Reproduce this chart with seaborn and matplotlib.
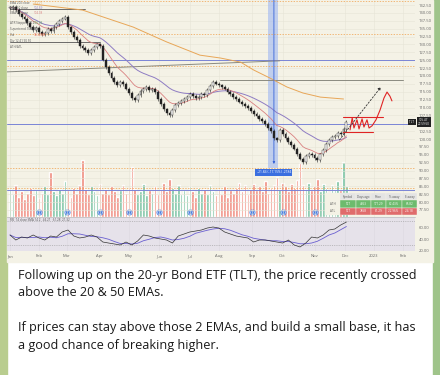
import numpy as np
import pandas as pd
import seaborn as sns
import matplotlib.pyplot as plt
from matplotlib.patches import Rectangle

closes = [
    141.5, 142.0, 140.8, 139.5, 138.6, 138.0, 136.8, 135.5, 134.6, 135.2,
    134.0, 133.2, 133.6, 134.8, 134.3, 135.6, 136.4, 137.5, 138.2, 138.7,
    135.4, 134.0, 132.3, 131.5, 129.6, 128.8, 128.2, 127.4, 128.3, 129.2,
    130.0, 129.4, 125.2, 122.8, 121.0, 119.3, 118.2, 117.0, 118.0, 117.4,
    116.0, 114.5, 112.9, 112.4, 114.0, 115.2, 115.8, 116.4, 115.5, 116.0,
    114.9, 112.8, 111.0, 109.4, 108.3, 107.6, 109.2, 110.8, 111.5, 112.0,
    112.6, 113.4, 114.2, 113.6, 112.9, 113.3, 114.4, 114.0, 115.6, 116.8,
    118.2, 117.6, 117.0, 116.4, 116.0, 115.0, 114.2, 113.4, 112.6, 111.9,
    111.2, 110.6, 109.8, 108.9, 108.0, 107.2, 106.4, 105.6, 104.8, 103.4,
    102.6, 100.2, 99.6, 102.8, 101.5, 100.4, 99.0, 98.2, 97.0, 95.3,
    93.8, 92.8, 94.6, 95.4, 94.9, 93.9, 93.4, 95.1, 96.6, 98.4,
    99.8, 100.6, 101.0, 102.0, 101.6, 103.2, 105.4,
]
volume_m = [
    22, 18, 25, 16, 20, 14, 19, 23, 17, 21,
    15, 19, 24, 18, 35, 20, 17, 22, 19, 28,
    21, 16, 23, 19, 25, 45, 22, 18, 24, 20,
    17, 26, 19, 22, 18, 24, 20, 16, 21, 25,
    19, 23, 39, 22, 18, 20, 26, 17, 21, 19,
    24, 18, 22, 27, 20, 30, 23, 19, 25, 18,
    21, 17, 24, 20, 16, 23, 19, 22, 18, 25,
    20, 17, 22, 18, 24, 16, 21, 19, 23, 27,
    20, 25, 18, 22, 26, 21, 24, 20, 28, 19,
    23, 25, 31, 22, 27, 24, 20, 26, 23, 29,
    42, 25, 22, 27, 21, 24, 30, 20, 26, 23,
    19, 25, 22, 28, 21, 43, 24,
]
# RSI(14) read every 4 bars
rsi_vals = [
    46.7, 38.3, 43.3, 41.7, 46.7, 41.7, 38.3, 45.0, 43.3, 51.7,
    55.0, 45.0, 41.7, 43.3, 46.7, 43.3, 35.0, 33.3, 31.7, 30.0,
    35.0, 30.0, 36.7, 46.7, 45.0, 41.7, 40.0, 38.3, 33.3, 45.0,
    48.3, 51.7, 53.3, 55.0, 58.3, 60.0, 58.3, 51.7, 48.3, 45.0,
    43.3, 41.7, 35.0, 38.3, 38.3, 36.7, 35.0, 33.3, 38.3, 30.0,
    26.7, 33.3, 43.3, 41.7, 46.7, 55.0, 56.7, 63.3, 68.3,
]
ema200_bars = [16, 50, 85, 108, 131, 145, 159, 168, 179, 191, 202, 214, 230]
ema200_vals = [142.8, 140.9, 135.5, 130.8, 126.6, 125.7, 124.4, 121.9, 119.4, 116.5, 114.6, 113.3, 112.7]

month_bars = [0, 20, 39, 62, 82, 103, 124, 144, 167, 188, 210, 231, 251, 271]
month_labels = ["Jan", "Feb", "Mar", "Apr", "May", "Jun", "Jul", "Aug", "Sep", "Oct", "Nov", "Dec", "2023", "Feb"]
dividend_bars = [20, 39, 62, 82, 103, 124, 167, 188, 210]

price_ticks = [77.5, 80.0, 82.5, 85.0, 87.5, 90.0, 92.5, 95.0, 97.5, 100.0, 102.5,
               107.5, 110.0, 112.5, 115.0, 117.5, 120.0, 122.5, 125.0, 127.5, 130.0,
               132.5, 135.0, 137.5, 140.0, 142.5]
last_price = 105.47

level_lines = [125.2, 104.8, 83.7]
alert_lines = [143.8, 133.3, 123.2, 90.8, 84.5]

# hand drawn annotations on the chart
base_top = 107.0
base_bottom = 102.2
zigzag_bars = [234.5, 236, 237.2, 239.3, 240.7, 242.8, 244.1, 246.2, 247.6, 249.7, 252.4, 255.2, 257.9, 260, 262, 263.4]
zigzag_vals = [102.9, 106.7, 103.5, 106.1, 103.2, 106.4, 103.8, 106.1, 103.5, 104.2, 106.1, 109.2, 113.0, 114.9, 113.6, 112.1]

table_rows = [["", "Symbol", "Days ago", "Price", "% away", "$ away"],
              ["ATH", "TLT", "4263", "171.29", "62.43%", "65.82"],
              ["ATL", "TLT", "7858", "81.29", "-22.96%", "-24.18"]]

text_lines = [
    "Following up on the 20-yr Bond ETF (TLT), the price recently crossed",
    "above the 20 & 50 EMAs.",
    "If prices can stay above those 2 EMAs, and build a small base, it has",
    "a good chance of breaking higher.",
]

# ---------------------------------------------------------------
W, H = 440, 375


def rect(x0, y0, x1, y1):
    return [x0 / W, 1 - y1 / H, (x1 - x0) / W, (y1 - y0) / H]


sns.set_theme(style="white")
plt.rcParams['font.family'] = ['Open Sans', 'DejaVu Sans']

fig = plt.figure(figsize=(4.4, 3.75), dpi=100, facecolor="white")
fig.patches.extend([
    Rectangle((0, 0), 7 / W, 1, transform=fig.transFigure, color="#b9cd8f", zorder=-5),
    Rectangle((433 / W, 0), 7 / W, 1, transform=fig.transFigure, color="#9fc48a", zorder=-5),
    Rectangle((7 / W, 1 - 262 / H), 426 / W, 262 / H, transform=fig.transFigure, color="#f4f2e6", zorder=-5),
])

bars = np.arange(len(closes)) * 2
df = pd.DataFrame({"bar": bars, "close": closes, "vol": volume_m})
df["open"] = df["close"].shift(1).fillna(df["close"].iloc[0])
df["up"] = df["close"] >= df["open"]
df["ema20"] = df["close"].ewm(span=10).mean()
df["ema50"] = df["close"].ewm(span=25).mean()

rsi = pd.DataFrame({"bar": np.arange(len(rsi_vals)) * 4, "rsi": rsi_vals})
rsi["ma"] = rsi["rsi"].rolling(4, min_periods=1).mean()

xlim = (-2.07, 279.3)

# volume (behind price)
axv = fig.add_axes(rect(7, 0, 415, 217))
axv.set_facecolor("none")
vcol = np.where(df["up"], "#74c09e", "#f0887a")
axv.bar(df["bar"], df["vol"], width=1.8, color=vcol, alpha=0.95)
axv.scatter(dividend_bars, [3.6] * len(dividend_bars), s=14, facecolor="white",
            edgecolor="#4a7fe0", linewidth=0.6, zorder=3)
axv.scatter(dividend_bars, [3.6] * len(dividend_bars), s=2, color="#4a7fe0", zorder=4)
axv.set_xlim(xlim)
axv.set_ylim(0, 170)
axv.axis("off")

# price
ax = fig.add_axes(rect(7, 0, 415, 217))
ax.set_facecolor("none")
ax.set_xlim(xlim)
ax.set_ylim(75.28, 144.09)
ax.set_xticks(month_bars)
ax.set_xticklabels([])
ax.set_yticks(price_ticks)
ax.set_yticklabels([f"{v:.2f}" for v in price_ticks])
ax.yaxis.tick_right()
ax.tick_params(axis="y", labelsize=3, pad=2.5, length=0, colors="#666666")
ax.tick_params(axis="x", length=0)
ax.grid(True, color="#e6e4d6", lw=0.4)
for s in ax.spines.values():
    s.set_visible(False)

for v in alert_lines:
    ax.axhline(v, color="#f0a04a", lw=0.5, ls=(0, (2, 2)))
for v in level_lines:
    ax.axhline(v, color="#7a84d6", lw=0.7)
ax.plot([-2, 186], [121.3, 124.8], color="#8a8a80", lw=0.7)
ax.plot([145, 271], [118.7, 118.7], color="#8a8a80", lw=0.7)
ax.plot([0, 52], [141.2, 141.2], color="#555555", lw=0.6)
ax.plot([0, 62], [130.9, 130.9], color="#555555", lw=0.6)

# measured move band
ax.fill_betweenx([90.8, 145], 178, 185, color="#aabff0", alpha=0.7, lw=0)
ax.annotate("", xy=(182, 91.2), xytext=(182, 145),
            arrowprops=dict(arrowstyle="-|>", color="#3563d8", lw=0.6, mutation_scale=3))
ax.text(182, 89.4, "-21.84 (-17.15%) -2184", ha="center", va="center", fontsize=2.4,
        color="white", bbox=dict(boxstyle="square,pad=0.4", fc="#3b6fe0", ec="none"))

sns.lineplot(x=ema200_bars, y=ema200_vals, ax=ax, color="#e8a657", lw=0.7)
sns.lineplot(x=df["bar"], y=df["ema50"], ax=ax, color="#8e7cc3", lw=0.7)
sns.lineplot(x=df["bar"], y=df["ema20"], ax=ax, color="#d98080", lw=0.6)

lo = np.minimum(df["open"], df["close"])
hi = np.maximum(df["open"], df["close"])
ax.vlines(df["bar"], lo - 0.6, hi + 0.6, color="#222222", lw=0.4, zorder=4)
body = np.maximum(hi - lo, 0.25)
ax.bar(df["bar"], body, bottom=lo, width=1.3,
       color=np.where(df["up"], "white", "#222222"), edgecolor="#222222", lw=0.3, zorder=5)

# drawing: base box, projection arrow
ax.plot([229.7, 257], [base_top, base_top], color="#e02424", lw=0.8, zorder=6)
ax.plot([229.7, 250], [base_bottom, base_bottom], color="#e02424", lw=0.8, zorder=6)
ax.plot(zigzag_bars, zigzag_vals, color="#e02424", lw=0.8, zorder=6)
ax.annotate("", xy=(257, 117.2), xytext=(226, 99.0),
            arrowprops=dict(arrowstyle="-|>", color="#333333", lw=0.6, ls=(0, (2, 2)),
                            mutation_scale=4), zorder=6)
ax.set_xlabel("")
ax.set_ylabel("")

# right price tags (on the price scale)
ax.text(1.0, last_price, "TLT ", transform=ax.get_yaxis_transform(), fontsize=2.2, color="white",
        ha="right", va="center", bbox=dict(boxstyle="square,pad=0.3", fc="#222222", ec="none"))
ax.text(1.008, last_price, f"{last_price:.2f}\n22:59:50", transform=ax.get_yaxis_transform(),
        fontsize=2.2, color="white", ha="left", va="center", linespacing=1.0,
        bbox=dict(boxstyle="square,pad=0.3", fc="#222222", ec="none"), clip_on=False)

# table
axt = fig.add_axes(rect(325, 193, 417, 215))
axt.axis("off")
cell_colours = [["#f4f2e6", "#e4e4e4", "#e4e4e4", "#e4e4e4", "#e4e4e4", "#e4e4e4"],
                ["#f4f2e6"] + ["#6dbb6d"] * 5,
                ["#f4f2e6"] + ["#e06c6c"] * 5]
tab = axt.table(cellText=table_rows, cellColours=cell_colours, bbox=[0, 0, 1, 1], cellLoc="center")
tab.auto_set_font_size(False)
tab.set_fontsize(2.2)
for (r, c), cell in tab.get_celld().items():
    cell.set_edgecolor("#f4f2e6")
    cell.set_linewidth(0.3)
    if r > 0 and c > 0:
        cell.get_text().set_color("white")
    else:
        cell.get_text().set_color("#555555")

# RSI panel
axr = fig.add_axes(rect(7, 217, 415, 251))
axr.set_facecolor("#e6e2ea")
axr.set_xlim(xlim)
axr.set_ylim(20, 76.7)
axr.axhline(70, color="#999999", lw=0.4, ls=(0, (2, 2)))
axr.axhline(30, color="#999999", lw=0.4, ls=(0, (2, 2)))
sns.lineplot(data=rsi, x="bar", y="ma", ax=axr, color="#6a5fd0", lw=0.6)
sns.lineplot(data=rsi, x="bar", y="rsi", ax=axr, color="#333333", lw=0.5)
axr.set_xticks(month_bars)
axr.set_xticklabels(month_labels)
axr.set_yticks([20, 40, 60])
axr.set_yticklabels(["20.00", "40.00", "60.00"])
axr.yaxis.tick_right()
axr.tick_params(labelsize=3, pad=2.5, length=0, colors="#666666")
axr.set_xlabel("")
axr.set_ylabel("")
for s in axr.spines.values():
    s.set_visible(False)
axr.spines["top"].set_visible(True)
axr.spines["top"].set_color("#bbbbbb")
axr.spines["top"].set_linewidth(0.5)
axr.grid(True, axis="x", color="#dcd8e0", lw=0.4)
fig.text(10 / W, 1 - 220 / H, "RSI  14 close SMA 14 2   44.21   61.28  21.32", fontsize=2.2,
         color="#555555", va="center")

# legend block top-left
legend_rows = [("EMA 200 close", "112.71", "#e8a657", 3), ("EMA 50 close", "102.69", "#8e7cc3", 8),
               ("EMA 20 close", "104.08", "#d98080", 13), ("ATR Stepped 14 2", "100.43", "#4f9a55", 23),
               ("Supertrend 10 ATR 3", "", "#999999", 29), ("Vol", "18.329M", "#e05a4a", 35),
               ("Div 12 41 90 50", "", "#777777", 41), ("ATH/ATL", "", "#555555", 47)]
for label, val, col, y in legend_rows:
    fig.text(10 / W, 1 - y / H, label, fontsize=2.2, color="#555555", va="center")
    if val:
        fig.text(34 / W, 1 - y / H, val, fontsize=2.2, color=col, va="center")

# message text
text_y = [276, 293, 328, 346]
for line, y in zip(text_lines, text_y):
    fig.text(18 / W, 1 - y / H, line, fontsize=9.1, color="#1a1a1a", va="center")

fig.savefig("out.png", dpi=100)
